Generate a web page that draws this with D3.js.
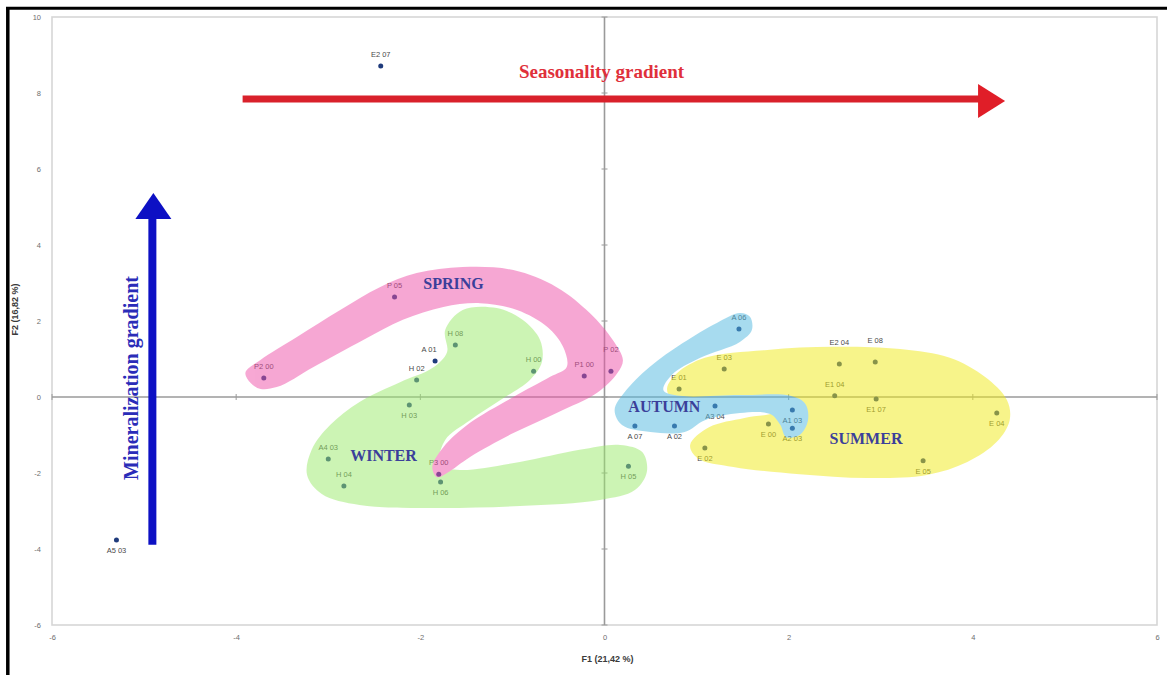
<!DOCTYPE html>
<html>
<head>
<meta charset="utf-8">
<script src="https://cdn.jsdelivr.net/npm/d3@7"></script>
<style>
  body { margin: 0; background: #ffffff; }
  svg { display: block; }
  .tick text { font-family: "Liberation Sans", Arial, sans-serif; font-size: 7.5px; fill: #6e6e6e; }
</style>
</head>
<body>
<svg id="chart" width="1167" height="675"></svg>
<script>
// PCA scores of the samples (F1, F2)
const sampleNames = ["E2 07","A5 03","P2 00","P 05","H 08","A 01","H 02","H 03","H 00","P1 00","P 02",
  "A4 03","H 04","P3 00","H 06","H 05","A 06","E 03","E 01","E2 04","E 08","E1 04","E1 07","E 04",
  "A 07","A 02","A3 04","A1 03","A2 03","E 00","E 02","E 05"];
const f1Scores = [-2.43,-5.30,-3.70,-2.28,-1.62,-1.84,-2.04,-2.12,-0.77,-0.22,0.07,
  -3.00,-2.83,-1.80,-1.78,0.26,1.46,1.30,0.81,2.55,2.94,2.50,2.95,4.26,
  0.33,0.76,1.20,2.04,2.04,1.78,1.09,3.46];
const f2Scores = [8.71,-3.76,0.50,2.63,1.37,0.95,0.45,-0.21,0.68,0.55,0.68,
  -1.63,-2.34,-2.03,-2.24,-1.82,1.79,0.74,0.21,0.87,0.92,0.03,-0.05,-0.42,
  -0.76,-0.76,-0.24,-0.34,-0.82,-0.71,-1.34,-1.68];
// where each sample's name sits relative to its point
const labelSide = ["up","down","up","up","up","left","up","down","up","up","high",
  "up","up","up","down","down","up","up","up","high","high","up","down","down",
  "down","down","down","down","down","down","down","down"];

const xTicks = [-6, -4, -2, 0, 2, 4, 6];
const yTicks = [-6, -4, -2, 0, 2, 4, 6, 8, 10];
const xTitle = "F1 (21,42 %)";
const yTitle = "F2 (16,82 %)";

// season groupings: outline (in F1/F2 units), label position, fill
const seasonNames = ["SUMMER", "AUTUMN", "WINTER", "SPRING"];
const seasonFills = ["#f1eb18", "#51b9e1", "#9beb6b", "#ef51a9"];
const seasonLabelAt = [[2.84, -1.08], [0.65, -0.24], [-2.40, -1.53], [-1.64, 3.0]];
const summerOutline = [[0.68,0.24],[0.79,0.63],[1.09,1.03],[1.77,1.24],[2.48,1.32],[3.21,1.26],[3.75,1.03],
  [4.13,0.53],[4.37,-0.08],[4.40,-0.61],[4.26,-1.18],[3.94,-1.71],[3.50,-2.05],[2.85,-2.13],[2.12,-2.03],
  [1.40,-1.84],[1.01,-1.61],[0.93,-1.26],[1.14,-0.79],[1.52,-0.55],[1.85,-0.39],[1.90,-0.08],[1.47,-0.03],
  [0.93,-0.03],[0.71,0.03]];
const autumnOutline = [[1.47,2.21],[1.58,2.11],[1.60,1.76],[1.47,1.45],[1.04,1.03],[0.73,0.58],[0.64,0.18],
  [0.82,0.03],[1.47,0.05],[2.02,0.03],[2.18,-0.18],[2.21,-0.61],[2.12,-1.00],[1.97,-1.05],[1.91,-0.74],
  [1.80,-0.45],[1.47,-0.42],[1.09,-0.61],[0.87,-0.92],[0.50,-0.92],[0.19,-0.74],[0.11,-0.34],[0.22,0.13],
  [0.49,0.79],[0.85,1.42],[1.22,1.95]];
const winterOutline = [[-1.73,1.76],[-1.71,1.18],[-1.87,0.76],[-2.22,0.39],[-2.66,-0.13],[-2.98,-0.74],
  [-3.18,-1.39],[-3.23,-2.05],[-3.07,-2.55],[-2.66,-2.84],[-1.90,-2.92],[-0.92,-2.87],[-0.05,-2.71],
  [0.33,-2.45],[0.46,-1.97],[0.41,-1.45],[0.17,-1.26],[-0.27,-1.39],[-0.92,-1.71],[-1.57,-1.92],
  [-1.79,-1.79],[-1.73,-1.13],[-1.46,-0.61],[-1.13,-0.08],[-0.81,0.45],[-0.68,0.92],[-0.70,1.50],
  [-0.89,2.03],[-1.17,2.34],[-1.54,2.29]];
const springOutline = [[-3.90,0.63],[-3.74,0.97],[-3.34,1.58],[-2.87,2.29],[-2.44,2.89],[-2.04,3.26],
  [-1.54,3.42],[-0.99,3.34],[-0.52,2.89],[-0.16,2.21],[0.09,1.50],[0.20,0.97],[0.14,0.63],[-0.08,0.11],
  [-0.52,-0.42],[-0.99,-0.95],[-1.46,-1.58],[-1.71,-2.00],[-1.82,-2.11],[-1.87,-1.84],[-1.75,-1.32],
  [-1.46,-0.68],[-0.99,0.00],[-0.59,0.53],[-0.41,0.79],[-0.45,1.32],[-0.62,1.84],[-0.95,2.29],
  [-1.35,2.47],[-1.75,2.37],[-2.19,2.03],[-2.62,1.50],[-3.16,0.79],[-3.56,0.26],[-3.77,0.24]];
const seasonOutlines = [summerOutline, autumnOutline, winterOutline, springOutline];

// gradient arrows (F1/F2 units)
const seasonalityArrow = { from: [-3.93, 7.84], to: [4.35, 7.84], text: "Seasonality gradient" };
const mineralArrow = { from: [-4.91, -3.89], to: [-4.91, 5.37], text: "Mineralization gradient" };

const W = 1167, H = 675;
const svg = d3.select("#chart");
const x = d3.scaleLinear().domain([-6, 6]).range([52, 1157]);
const y = d3.scaleLinear().domain([-6, 10]).range([625, 17]);

// outer frame edges
svg.append("line").attr("x1", 6).attr("x2", W).attr("y1", 8.3).attr("y2", 8.3)
  .attr("stroke", "#000").attr("stroke-width", 3);
svg.append("line").attr("x1", 7.8).attr("x2", 7.8).attr("y1", 7).attr("y2", H)
  .attr("stroke", "#000").attr("stroke-width", 3.5);

// plot frame
svg.append("rect")
  .attr("x", x(-6)).attr("y", y(10))
  .attr("width", x(6) - x(-6)).attr("height", y(-6) - y(10))
  .attr("fill", "none").attr("stroke", "#d6d6d6").attr("stroke-width", 1.6);

// tick labels (plain hyphen for negatives)
const tickFmt = d => String(d);
const yAxis = svg.append("g").attr("transform", `translate(${x(-6) - 8},0)`)
  .call(d3.axisLeft(y).tickValues(yTicks).tickSize(0).tickPadding(3).tickFormat(tickFmt));
yAxis.select(".domain").remove();
const xAxis = svg.append("g").attr("transform", `translate(0,${y(-6) + 2})`)
  .call(d3.axisBottom(x).tickValues(xTicks).tickSize(0).tickPadding(8).tickFormat(tickFmt));
xAxis.select(".domain").remove();

// zero lines through the origin, with small tick marks
const zero = svg.append("g").attr("stroke", "#9a9a9a");
zero.append("line").attr("x1", x(0)).attr("x2", x(0)).attr("y1", y(10)).attr("y2", y(-6)).attr("stroke-width", 1.6);
zero.append("line").attr("x1", x(-6)).attr("x2", x(6)).attr("y1", y(0)).attr("y2", y(0)).attr("stroke-width", 1.6);
zero.selectAll(".yt").data(yTicks).join("line")
  .attr("x1", x(0) - 3).attr("x2", x(0) + 3).attr("y1", d => y(d)).attr("y2", d => y(d)).attr("stroke-width", 1);
zero.selectAll(".xt").data(xTicks).join("line")
  .attr("y1", y(0) - 3).attr("y2", y(0) + 3).attr("x1", d => x(d)).attr("x2", d => x(d)).attr("stroke-width", 1);

// axis titles
svg.append("text").attr("x", x(0) + 3).attr("y", 662).attr("text-anchor", "middle")
  .attr("font-family", "Liberation Sans, Arial, sans-serif").attr("font-size", 9).attr("font-weight", "bold")
  .attr("fill", "#3a3a3a").text(xTitle);
svg.append("text").attr("transform", `translate(18,${y(2.3)}) rotate(-90)`).attr("text-anchor", "middle")
  .attr("font-family", "Liberation Sans, Arial, sans-serif").attr("font-size", 9).attr("font-weight", "bold")
  .attr("fill", "#3a3a3a").text(yTitle);

// sample points and names
const samples = sampleNames.map((n, i) => ({ name: n, f1: f1Scores[i], f2: f2Scores[i], side: labelSide[i] }));
const pts = svg.append("g");
pts.selectAll("circle").data(samples).join("circle")
  .attr("cx", d => x(d.f1)).attr("cy", d => y(d.f2)).attr("r", 2.5).attr("fill", "#1f3b7c");
pts.selectAll("text").data(samples).join("text")
  .attr("x", d => x(d.f1) + (d.side === "left" ? -6 : 0))
  .attr("y", d => y(d.f2) + (d.side === "down" ? 13 : d.side === "high" ? -19 : -9))
  .attr("text-anchor", "middle")
  .attr("font-family", "Liberation Sans, Arial, sans-serif").attr("font-size", 7.5).attr("fill", "#4a4a4a")
  .text(d => d.name);

// season envelopes, translucent over the points
const outline = d3.line().x(d => x(d[0])).y(d => y(d[1])).curve(d3.curveCatmullRomClosed.alpha(0.5));
const env = svg.append("g").attr("opacity", 0.5);
env.selectAll("path").data(seasonOutlines).join("path")
  .attr("d", outline).attr("fill", (d, i) => seasonFills[i]);

// season names
svg.append("g").selectAll("text").data(seasonNames).join("text")
  .attr("x", (d, i) => x(seasonLabelAt[i][0])).attr("y", (d, i) => y(seasonLabelAt[i][1]) + 5.5)
  .attr("text-anchor", "middle")
  .attr("font-family", "Liberation Serif, 'Times New Roman', serif").attr("font-size", 16).attr("font-weight", "bold")
  .attr("fill", "#3b3f9a").text(d => d);

// seasonality arrow
const sa = seasonalityArrow;
const sy = y(sa.from[1]);
svg.append("line").attr("x1", x(sa.from[0])).attr("x2", x(sa.to[0]) - 24).attr("y1", sy).attr("y2", sy)
  .attr("stroke", "#d9212b").attr("stroke-width", 7);
svg.append("path")
  .attr("d", `M${x(sa.to[0])},${sy + 2}L${x(sa.to[0]) - 27},${sy - 15}L${x(sa.to[0]) - 27},${sy + 19}Z`)
  .attr("fill", "#e01e28");
svg.append("text").attr("x", x(0) - 3).attr("y", sy - 21).attr("text-anchor", "middle")
  .attr("font-family", "Liberation Serif, 'Times New Roman', serif").attr("font-size", 19).attr("font-weight", "bold")
  .attr("fill", "#e0303b").text(sa.text);

// mineralization arrow
const ma = mineralArrow;
const mx = x(ma.from[0]);
svg.append("line").attr("x1", mx).attr("x2", mx).attr("y1", y(ma.from[1])).attr("y2", y(ma.to[1]) + 24)
  .attr("stroke", "#0d10c4").attr("stroke-width", 8);
svg.append("path")
  .attr("d", `M${mx + 1},${y(ma.to[1])}L${mx - 17},${y(ma.to[1]) + 26}L${mx + 19},${y(ma.to[1]) + 26}Z`)
  .attr("fill", "#0d10c4");
svg.append("text").attr("transform", `translate(${mx - 14},${y(0.5)}) rotate(-90)`).attr("text-anchor", "middle")
  .attr("font-family", "Liberation Serif, 'Times New Roman', serif").attr("font-size", 20).attr("font-weight", "bold")
  .attr("fill", "#2a2cb8").text(ma.text);
</script>
</body>
</html>
